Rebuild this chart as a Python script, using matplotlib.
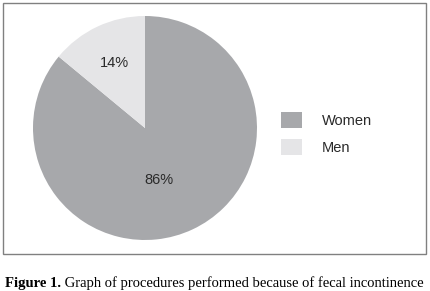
import matplotlib
matplotlib.use("Agg")
import matplotlib.pyplot as plt
from matplotlib.patches import Rectangle, Patch
import numpy as np

# data
labels = ["Women", "Men"]
shares = [86, 14]
colors = ["#a7a8ab", "#e5e5e7"]
caption_bold = "Figure 1."
caption_rest = " Graph of procedures performed because of fecal incontinence"

W, H = 430, 291
fig = plt.figure(figsize=(W / 100, H / 100), dpi=100)
fig.patch.set_facecolor("white")

# outer frame
fig.add_artist(Rectangle((3 / W, 1 - 254 / H), 423 / W, 251 / H, transform=fig.transFigure,
                         fill=False, edgecolor="#808080", linewidth=1.0))

# pie axes: center (145,128) px, radius 112 px
cx, cy, r = 145, 128, 112
ax = fig.add_axes([(cx - r) / W, 1 - (cy + r) / H, 2 * r / W, 2 * r / H])
wedges, texts, autotexts = ax.pie(shares, colors=colors, startangle=90, counterclock=False,
                                  radius=1, autopct="%d%%", pctdistance=0.55,
                                  textprops=dict(family="Liberation Sans", fontsize=10.5, color="#2a2a2a"))
ax.set_xlim(-1, 1)
ax.set_ylim(-1, 1)
ax.set_aspect("equal")
ax.axis("off")

# nudge the percentage labels a bit, like the original
label_r = [0.48, 0.64]
label_ang = [-75, 115]
for t, rr, a in zip(autotexts, label_r, label_ang):
    t.set_position((rr * np.cos(np.radians(a)), rr * np.sin(np.radians(a))))

# legend
handles = [Patch(facecolor=c, edgecolor="none") for c in colors]
leg = fig.legend(handles, labels, loc="upper left", bbox_to_anchor=(281 / W, 1 - 112 / H),
                 frameon=False, borderpad=0, borderaxespad=0, handlelength=1.45, handleheight=1.3,
                 handletextpad=1.35, labelspacing=0.75,
                 prop=dict(family="Liberation Sans", size=10.5))
for t in leg.get_texts():
    t.set_color("#2a2a2a")

# caption: bold part then regular part
fig.canvas.draw()
rend = fig.canvas.get_renderer()
tb = fig.text(5 / W, 1 - 283 / H, caption_bold, fontsize=10.5, fontweight="bold",
              family="Liberation Serif", va="center", ha="left")
bb = tb.get_window_extent(renderer=rend)
fig.text(bb.x1 / W, 1 - 283 / H, caption_rest, fontsize=10.5,
         family="Liberation Serif", va="center", ha="left")

fig.savefig("out.png", dpi=100, facecolor="white")
